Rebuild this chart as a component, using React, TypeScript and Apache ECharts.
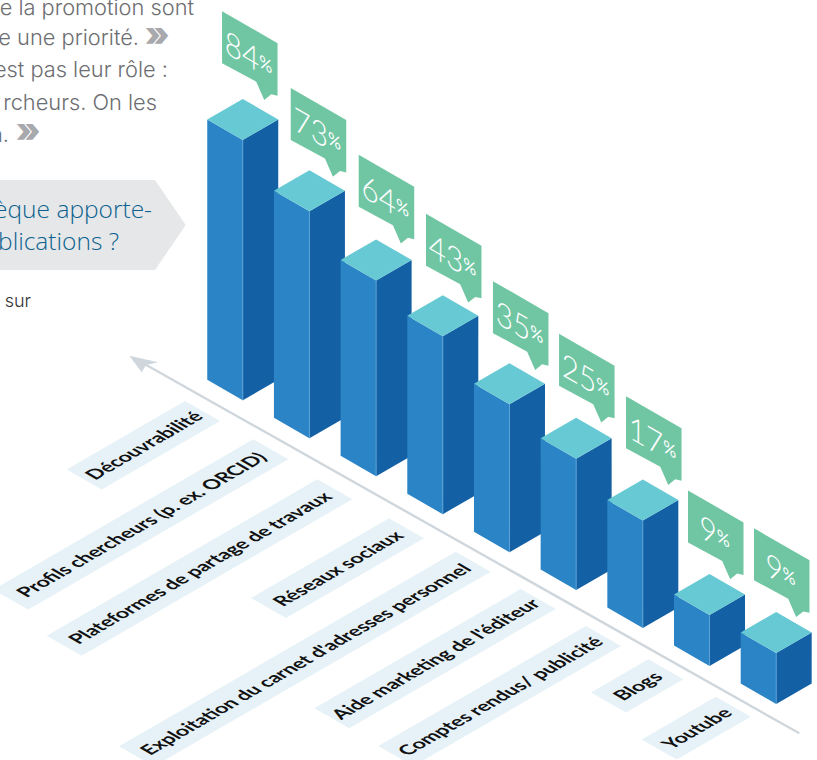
import React, { useEffect, useRef } from "react";
import * as echarts from "echarts";

// Survey results, one bar per promotion channel
const categories = [
  "Découvrabilité",
  "Profils chercheurs (p. ex. ORCID)",
  "Plateformes de partage de travaux",
  "Réseaux sociaux",
  "Exploitation du carnet d'adresses personnel",
  "Aide marketing de l'éditeur",
  "Comptes rendus/ publicité",
  "Blogs",
  "Youtube",
];
const percentages = [84, 73, 64, 43, 35, 25, 17, 9, 9];

// Pictorial height scale: the infographic stretches small percentages,
// so a percentage maps to a column rise piecewise rather than linearly.
const scalePercent = [0, 9, 17, 25, 35, 43, 64, 73, 84];
const scaleRise = [0, 51, 107.5, 131.4, 148, 178, 195.8, 227, 260.4];

// Isometric layout
const GRID = { left: 242.75, top: 100.3, width: 533.44, height: 300 };
const FLOOR_STEP_Y = 37.96;
const HALF_W = 35.5;
const HALF_D = 20.5;

// Hand placement of each speech bubble around its default spot
const bubbleShiftX = [-2.2, -0.2, 1.1, 1.7, 2, 1.4, 1.7, -3, -3.7];
const bubbleShiftY = [-4.2, 1.2, -1.2, 2.1, 1.5, -0.5, 0.2, -0.1, -0.2];

// Label strips: top corner x, top corner y, run along the axis
const strips = [
  [185, 401, 118.3],
  [253.3, 439.3, 260],
  [317.3, 479.3, 270.6],
  [389, 518.3, 138],
  [455.7, 551.7, 336.7],
  [520.7, 589, 206.4],
  [586, 626, 207.7],
  [648.3, 659.3, 57.3],
  [715.7, 696.7, 74],
];

const FRONT = "#2a84c6";
const SIDE = "#1460a5";
const TOP = "#67c9d3";
const EDGE = "#62a8da";
const BUBBLE = "#70c6a3";
const STRIP = "#e6f2f7";
const RAD30 = Math.PI / 6;

const riseOf = (pct: number) => {
  for (let k = 1; k < scalePercent.length; k++) {
    if (pct <= scalePercent[k]) {
      const t = (pct - scalePercent[k - 1]) / (scalePercent[k] - scalePercent[k - 1]);
      return scaleRise[k - 1] + t * (scaleRise[k] - scaleRise[k - 1]);
    }
  }
  return scaleRise[scaleRise.length - 1];
};

// One isometric column with its speech bubble above it
const renderColumn = (_: any, api: any) => {
  const i = api.value(0);
  const pct = api.value(1);
  const base = api.coord([i, 0]);
  const top = api.coord([i, riseOf(pct)]);
  const tilt = i * FLOOR_STEP_Y;
  const x = base[0];
  const by = base[1] + tilt;
  const fy = top[1] + tilt;
  const bx = x + bubbleShiftX[i];
  const bfy = fy + bubbleShiftY[i];

  const bubble = [
    [bx - 18.5, bfy - 124.5],
    [bx + 37, bfy - 92.5],
    [bx + 37, bfy - 40],
    [bx + 30.7, bfy - 41.4],
    [bx + 23.7, bfy - 35.7],
    [bx + 15.7, bfy - 54],
    [bx - 18.5, bfy - 72.5],
  ];

  return {
    type: "group",
    children: [
      { type: "polygon", shape: { points: [[x - HALF_W, fy - HALF_D], [x, fy], [x, by], [x - HALF_W, by - HALF_D]] }, style: { fill: FRONT } },
      { type: "polygon", shape: { points: [[x, fy], [x + HALF_W, fy - HALF_D], [x + HALF_W, by - HALF_D], [x, by]] }, style: { fill: SIDE } },
      { type: "polygon", shape: { points: [[x, fy - 2 * HALF_D], [x + HALF_W, fy - HALF_D], [x, fy], [x - HALF_W, fy - HALF_D]] }, style: { fill: TOP } },
      { type: "line", shape: { x1: x, y1: fy, x2: x, y2: by }, style: { stroke: EDGE, lineWidth: 0.8 } },
      { type: "polygon", shape: { points: bubble }, style: { fill: BUBBLE } },
      {
        type: "text",
        x: bx + 8,
        y: bfy - 82,
        skewY: -RAD30,
        scaleX: 0.9,
        style: {
          text: `{n|${pct}}{p|%}`,
          align: "center",
          verticalAlign: "middle",
          rich: {
            n: { fontFamily: "Lato", fontWeight: 300, fontSize: 33, fill: "#ffffff" },
            p: { fontFamily: "Lato", fontWeight: 400, fontSize: 18, fill: "#ffffff" },
          },
        },
      },
    ],
  };
};

// Parallelogram strip with a category name lying on the floor plane
const renderStrip = (_: any, api: any) => {
  const i = api.value(0);
  const [tx, ty, run] = strips[i];
  const drop = run * 0.578;
  const points = [
    [tx, ty],
    [tx + 35, ty + 20],
    [tx + 35 - run, ty + 20 + drop],
    [tx - run, ty + drop],
  ];
  return {
    type: "group",
    children: [
      { type: "polygon", shape: { points }, style: { fill: STRIP } },
      {
        type: "text",
        x: tx + 17.5 - run / 2,
        y: ty + 10 + drop / 2,
        rotation: RAD30,
        skewX: RAD30,
        scaleY: 0.866,
        style: {
          text: categories[i],
          align: "center",
          verticalAlign: "middle",
          fontFamily: "Lato",
          fontWeight: 700,
          fontSize: 19.3,
          fill: "#111111",
        },
      },
    ],
  };
};

const BODY_SIZE = 21.8;
const bodyLine = (text: string, right: number, baseline: number) => ({
  type: "text",
  x: right,
  y: baseline - BODY_SIZE * 0.36,
  style: { text, align: "right", verticalAlign: "middle", fontFamily: "Inter", fontWeight: 300, fontSize: BODY_SIZE, fill: "#6d6e71" },
});

const chevron = (x: number, y: number) => ({
  type: "text",
  x,
  y,
  style: { text: "»", align: "center", verticalAlign: "middle", fontFamily: "Inter", fontWeight: 900, fontSize: 34, fill: "#a7a9ac" },
});

const BANNER_SIZE = 24.5;
const bannerLine = (text: string, right: number, baseline: number) => ({
  type: "text",
  x: right,
  y: baseline - BANNER_SIZE * 0.36,
  style: { text, align: "right", verticalAlign: "middle", fontFamily: "Open Sans", fontWeight: 300, fontSize: BANNER_SIZE, fill: "#0b628f" },
});

export default function App() {
  const ref = useRef<HTMLDivElement>(null);

  useEffect(() => {
    const chart = echarts.init(ref.current!, undefined, { renderer: "svg" });
    chart.setOption({
      animation: false,
      backgroundColor: "#ffffff",
      grid: { ...GRID },
      xAxis: { type: "category", data: categories, boundaryGap: false, show: false },
      yAxis: { type: "value", min: 0, max: GRID.height, show: false },
      graphic: [
        bodyLine("e la promotion sont", 194, 15),
        bodyLine("e une priorité.", 139, 45),
        chevron(157, 33),
        bodyLine("est pas leur rôle :", 168, 77),
        bodyLine("rcheurs. On les", 157, 110),
        bodyLine("n.", 9, 142),
        chevron(28, 129),
        {
          type: "polygon",
          shape: { points: [[0, 180], [155, 180], [185.7, 225], [155, 270], [0, 270]] },
          style: { fill: "#e6e7e8" },
        },
        bannerLine("èque apporte-", 152, 217),
        bannerLine("blications ?", 119, 249),
        {
          type: "text",
          x: 31,
          y: 300.5,
          style: { text: "sur", align: "right", verticalAlign: "middle", fontFamily: "Inter", fontWeight: 300, fontSize: 18, fill: "#333333" },
        },
        {
          type: "line",
          shape: { x1: 799.3, y1: 733.3, x2: 141, y2: 362 },
          style: { stroke: "#d0d7dc", lineWidth: 2.4 },
        },
        {
          type: "polygon",
          shape: { points: [[129.3, 355.7], [158.3, 362.3], [146, 365], [141.7, 372.3]] },
          style: { fill: "#d0d7dc" },
        },
      ],
      series: [
        {
          type: "custom",
          silent: true,
          clip: false,
          renderItem: renderStrip,
          encode: { x: 0, y: 1 },
          data: percentages.map((v, i) => [i, v]),
          z: 1,
        },
        {
          type: "custom",
          silent: true,
          clip: false,
          renderItem: renderColumn,
          encode: { x: 0, y: 1 },
          data: percentages.map((v, i) => [i, v]),
          z: 2,
        },
      ],
    });
    return () => chart.dispose();
  }, []);

  return <div ref={ref} style={{ position: "absolute", left: 0, top: 0, width: 817, height: 760 }} />;
}
